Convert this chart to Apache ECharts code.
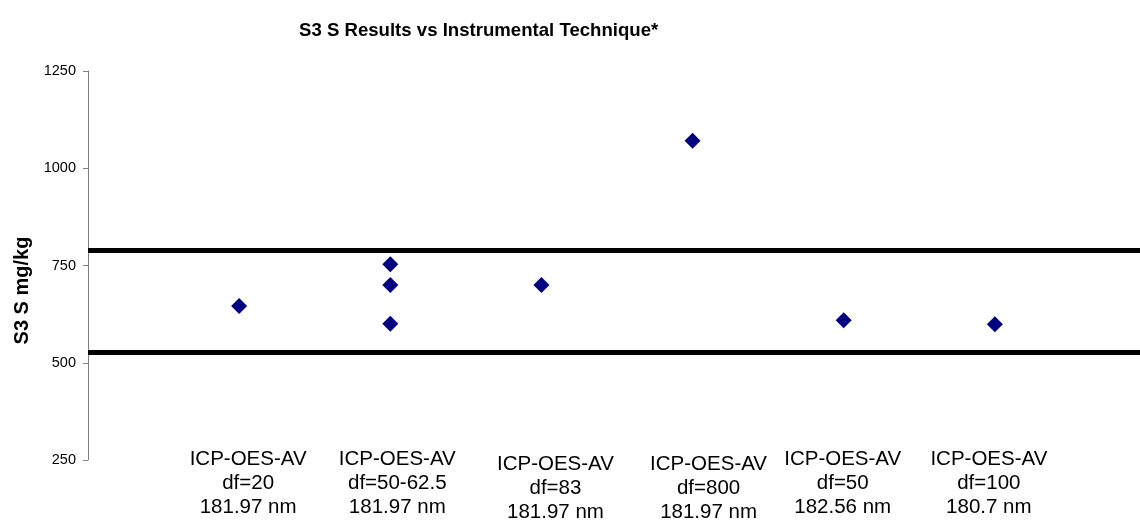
<!DOCTYPE html>
<html lang="en" style="height: 100%">
<head>
  <meta charset="utf-8" />
  <title>S3 S Results vs Instrumental Technique</title>
</head>
<body style="height: 100%; margin: 0; background: #fff">
  <div id="container" style="width: 1140px; height: 523px"></div>

  <script src="https://cdn.jsdelivr.net/npm/echarts@6/dist/echarts.min.js"></script>

  <script>
    // category labels (x position 1..6)
    const categories = [
      ['ICP-OES-AV', 'df=20', '181.97 nm'],
      ['ICP-OES-AV', 'df=50-62.5', '181.97 nm'],
      ['ICP-OES-AV', 'df=83', '181.97 nm'],
      ['ICP-OES-AV', 'df=800', '181.97 nm'],
      ['ICP-OES-AV', 'df=50', '182.56 nm'],
      ['ICP-OES-AV', 'df=100', '180.7 nm']
    ];
    // small horizontal shifts of the label boxes in the original (px)
    const labelDx = [9, 7, 14, 16, -1, -6];
    // labels that sit a little lower in the original
    const lowLabels = [3, 4];

    // results: category position and value
    const pointCat = [1, 2, 2, 2, 3, 4, 5, 6];
    const pointVal = [646, 753, 700, 600, 700, 1071, 609, 599];

    // acceptance limits
    const limits = [789, 527];

    const yTicks = [250, 500, 750, 1000, 1250];

    const points = [];
    for (let i = 0; i < pointCat.length; i++) {
      points.push([pointCat[i], pointVal[i]]);
    }

    const font = 'Liberation Sans, Arial, sans-serif';

    // one rich style per label for its horizontal shift
    const rich = {};
    for (let i = 0; i < categories.length; i++) {
      const dx = labelDx[i];
      rich['s' + i] = {
        fontFamily: font,
        fontSize: 20.5,
        lineHeight: 24,
        color: '#000',
        padding: [0, dx < 0 ? -2 * dx : 0, 0, dx > 0 ? 2 * dx : 0]
      };
    }

    function labelFormatter(low) {
      return function (v) {
        const pos = Math.round(v);
        if (pos < 1 || pos > categories.length) return '';
        if ((lowLabels.indexOf(pos) >= 0) !== low) return '';
        const key = 's' + (pos - 1);
        return categories[pos - 1].map(function (t) {
          return '{' + key + '|' + t + '}';
        }).join('\n');
      };
    }

    function xAxisOf(low) {
      return {
        type: 'value',
        position: 'bottom',
        min: 0,
        max: 7,
        interval: 1,
        axisLine: { show: false },
        axisTick: { show: false },
        splitLine: { show: false },
        axisLabel: {
          margin: low ? -8 : -13,
          color: '#000',
          fontFamily: font,
          fontSize: 20.5,
          lineHeight: 24,
          rich: rich,
          formatter: labelFormatter(low)
        }
      };
    }

    var dom = document.getElementById('container');
    var myChart = echarts.init(dom);

    var option = {
      backgroundColor: '#fff',
      animation: false,
      title: {
        text: 'S3 S Results vs Instrumental Technique*',
        left: 294,
        top: 16,
        textStyle: {
          fontFamily: font,
          fontSize: 18.6,
          fontWeight: 'bold',
          color: '#000'
        }
      },
      grid: {
        left: 88,
        right: -6,
        top: 71,
        bottom: 63,
        outerBoundsMode: 'none'
      },
      xAxis: [xAxisOf(false), xAxisOf(true)],
      yAxis: {
        type: 'value',
        min: yTicks[0],
        max: yTicks[yTicks.length - 1],
        interval: 250,
        name: 'S3 S mg/kg',
        nameLocation: 'middle',
        nameGap: 56,
        nameTextStyle: {
          fontFamily: font,
          fontSize: 20,
          fontWeight: 'bold',
          color: '#000',
          padding: [0, 50, 0, 0]
        },
        axisLine: { show: true, lineStyle: { color: '#808080', width: 1 } },
        axisTick: { show: true, length: 5, lineStyle: { color: '#808080' } },
        splitLine: { show: false },
        axisLabel: {
          margin: 12,
          color: '#000',
          fontFamily: font,
          fontSize: 14.5,
          formatter: function (v) { return String(v); }
        }
      },
      series: [
        {
          name: 'Results',
          type: 'scatter',
          xAxisIndex: 0,
          symbol: 'diamond',
          symbolSize: [16, 16],
          itemStyle: { color: '#000080', opacity: 1 },
          data: points,
          markLine: {
            silent: true,
            symbol: ['none', 'none'],
            label: { show: false },
            lineStyle: { color: '#000', width: 5, type: 'solid' },
            data: limits.map(function (v) { return { yAxis: v }; })
          }
        }
      ]
    };

    myChart.setOption(option);

    window.onresize = function () {
      myChart.resize();
    };
  </script>
</body>
</html>
